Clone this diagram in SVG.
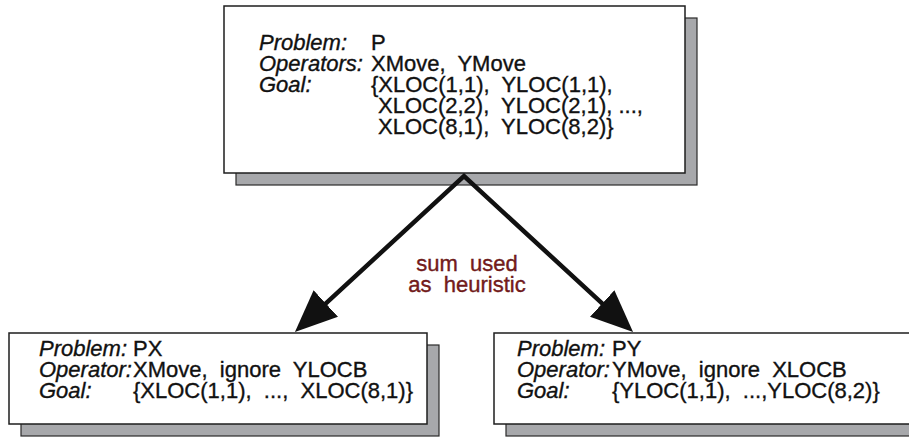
<svg xmlns="http://www.w3.org/2000/svg" width="909" height="441" viewBox="0 0 909 441" xml:space="preserve">
<style>
.box{fill:#ffffff;stroke:#1e1e1e;stroke-width:1.5}
.shadow{fill:#a7a8ab;stroke:#2a2a2a;stroke-width:1.2}
text{font-family:"Liberation Sans",Arial,Helvetica,sans-serif;font-size:22px;fill:#111111;stroke:#111111;stroke-width:0.35;white-space:pre}
.lab{font-style:italic}
.edge{fill:none;stroke:#111111;stroke-width:4.5;stroke-linejoin:miter;stroke-miterlimit:10}
.note{fill:#7a1c1c;stroke:#5a1010;text-anchor:middle}
</style>
<defs>
<marker id="head" viewBox="0 0 42 36" markerWidth="42" markerHeight="36" refX="32" refY="18" orient="auto-start-reverse" markerUnits="userSpaceOnUse">
<path d="M0,0 L42,18 L0,36 Z" fill="#111111"/>
</marker>
</defs>
<rect width="909" height="441" fill="#ffffff"/>
<g id="node-P">
<rect class="shadow" x="236" y="18" width="461" height="167"/>
<rect class="box" x="224" y="6" width="461" height="167"/>
<text class="lab" x="259" y="50">Problem:</text><text x="371" y="50">P</text>
<text class="lab" x="259" y="71">Operators:</text><text x="371" y="71">XMove,  YMove</text>
<text class="lab" x="259" y="92">Goal:</text><text x="371" y="92">{XLOC(1,1),  YLOC(1,1),</text>
<text x="378" y="113">XLOC(2,2),  YLOC(2,1), ...,</text>
<text x="378" y="134">XLOC(8,1),  YLOC(8,2)}</text>
</g>
<g id="node-PX">
<rect class="shadow" x="21" y="345" width="418" height="91"/>
<rect class="box" x="9" y="333" width="418" height="91"/>
<text class="lab" x="39" y="356">Problem:</text><text x="133" y="356">PX</text>
<text class="lab" x="39" y="377">Operator:</text><text x="133" y="377">XMove,  ignore  YLOCB</text>
<text class="lab" x="39" y="398">Goal:</text><text x="133" y="398">{XLOC(1,1),  ...,  XLOC(8,1)}</text>
</g>
<g id="node-PY">
<rect class="shadow" x="506" y="345" width="430" height="91"/>
<rect class="box" x="494" y="333" width="430" height="91"/>
<text class="lab" x="517" y="356">Problem:</text><text x="612" y="356">PY</text>
<text class="lab" x="517" y="377">Operator:</text><text x="612" y="377">YMove,  ignore  XLOCB</text>
<text class="lab" x="517" y="398">Goal:</text><text x="612" y="398">{YLOC(1,1),  ...,YLOC(8,2)}</text>
</g>
<g id="connectors">
<path class="edge" d="M302.3,325.2 L464,176 L625.7,325.2" marker-start="url(#head)" marker-end="url(#head)"/>
<text class="note" x="467" y="271">sum  used</text>
<text class="note" x="467" y="292">as  heuristic</text>
</g>
</svg>
